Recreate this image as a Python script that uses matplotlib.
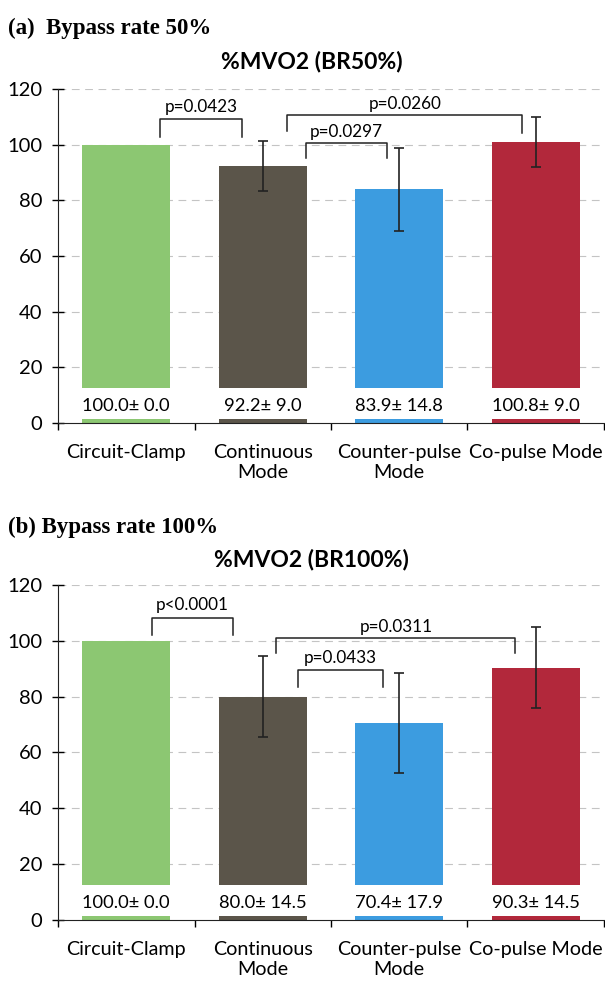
import matplotlib.pyplot as plt
import numpy as np

categories = ["Circuit-Clamp", "Continuous\nMode", "Counter-pulse\nMode", "Co-pulse Mode"]
colors = ["#8cc772", "#5b554a", "#3c9ce0", "#b2283b"]

mean_50 = [100.0, 92.2, 83.9, 100.8]
sd_50 = [0.0, 9.0, 14.8, 9.0]
mean_100 = [100.0, 80.0, 70.4, 90.3]
sd_100 = [0.0, 14.5, 17.9, 14.5]

# brackets: (x_left, x_right, top, leg_bottom_left, leg_bottom_right, label, label_y)
brackets_50 = [
    (0.25, 0.85, 109.2, 102.8, 102.8, "p=0.0423", 113.4),
    (1.18, 2.90, 110.7, 104.9, 104.2, "p=0.0260", 114.6),
    (1.32, 1.91, 100.6, 95.2, 95.2, "p=0.0297", 104.6),
]
brackets_100 = [
    (0.19, 0.78, 108.2, 102.2, 102.2, "p<0.0001", 113.0),
    (1.10, 2.85, 101.1, 95.7, 95.7, "p=0.0311", 105.0),
    (1.26, 1.88, 89.6, 83.5, 83.5, "p=0.0433", 94.0),
]

FONT = "Lato"

fig = plt.figure(figsize=(6.05, 9.81), dpi=100)


def draw_panel(ax, means, sds, brackets):
    x = np.arange(len(categories))
    ax.set_xlim(-0.5, 3.5)
    ax.set_ylim(0, 120)
    for yv in range(20, 121, 20):
        ax.axhline(yv, color="#c4c4c4", lw=0.8, ls=(0, (7, 5)), zorder=0)
    ax.bar(x, means, width=0.645, color=colors, zorder=2)
    # white label band over the lower part of each bar
    ax.bar(x, [11.2] * 4, bottom=1.4, width=0.655, color="white", zorder=3)
    ax.errorbar(x[1:], means[1:], yerr=sds[1:], fmt="none", ecolor="#222222",
                elinewidth=1.2, capsize=3.5, capthick=1.2, zorder=4)
    for xi, m, s in zip(x, means, sds):
        ax.text(xi, 6.0, f"{m:.1f}\u00b1 {s:.1f}", ha="center", va="center",
                fontsize=13.2, family=[FONT, "DejaVu Sans"], zorder=5)
    for xl, xr, top, bl, br, lab, ly in brackets:
        ax.plot([xl, xl, xr, xr], [bl, top, top, br], color="#222222", lw=1.1,
                zorder=5, clip_on=False)
        ax.text((xl + xr) / 2, ly, lab, ha="center", va="center", fontsize=12.3,
                family=FONT, zorder=5)
    for sp in ["top", "right"]:
        ax.spines[sp].set_visible(False)
    ax.spines["left"].set_color("#222222")
    ax.spines["bottom"].set_color("#222222")
    ax.set_yticks(range(0, 121, 20))
    ax.tick_params(axis="y", direction="inout", length=9, width=1, labelsize=14.5, pad=7)
    ax.set_xticks([-0.5, 0.5, 1.5, 2.5, 3.5])
    ax.set_xticklabels([])
    ax.tick_params(axis="x", direction="out", length=5, width=1)
    for lbl in ax.get_yticklabels():
        lbl.set_family(FONT)
    for xi, c in zip(x, categories):
        ax.text(xi, -7.5, c, ha="center", va="top", fontsize=14.2, family=FONT,
                linespacing=1.25)


ax1 = fig.add_axes([0.0959, 0.5688, 0.9024, 0.3405])
draw_panel(ax1, mean_50, sd_50, brackets_50)
ax2 = fig.add_axes([0.0959, 0.0622, 0.9024, 0.3415])
draw_panel(ax2, mean_100, sd_100, brackets_100)

fig.text(0.013, 0.9715, "(a)  Bypass rate 50%", fontsize=16.5, fontweight="bold",
         family="Liberation Serif", va="center")
fig.text(0.515, 0.9368, "%MVO2 (BR50%)", fontsize=16.5, fontweight="bold",
         family=FONT, ha="center", va="center")
fig.text(0.013, 0.4628, "(b) Bypass rate 100%", fontsize=16.5, fontweight="bold",
         family="Liberation Serif", va="center")
fig.text(0.515, 0.4292, "%MVO2 (BR100%)", fontsize=16.5, fontweight="bold",
         family=FONT, ha="center", va="center")

fig.savefig("out.png", dpi=100)
